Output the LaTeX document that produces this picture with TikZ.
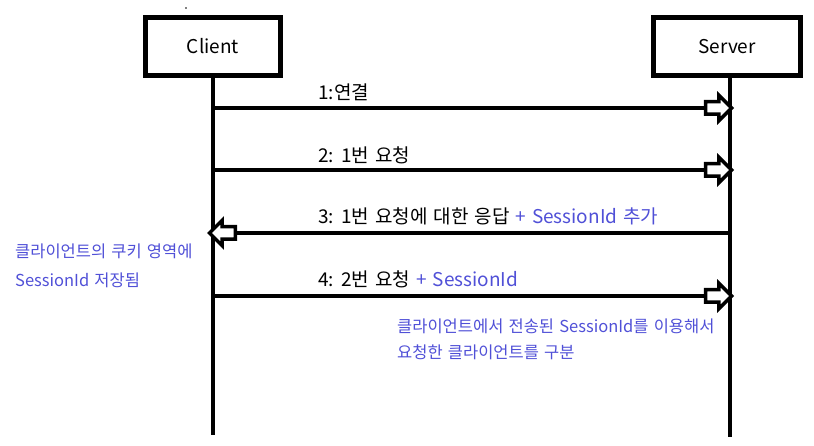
\documentclass[tikz,border=0pt]{standalone}
\usepackage{fontspec}
\setmainfont[WordSpace=1.4]{Noto Sans CJK KR}
\usetikzlibrary{shapes.arrows}
\definecolor{notecol}{RGB}{80,80,215}
\begin{document}
\begin{tikzpicture}[x=1pt,y=-1pt,
  actor/.style={draw, line width=5pt, minimum height=58,
                font=\fontsize{19}{21}\selectfont},
  life/.style={line width=4pt},
  msg/.style={line width=3.5pt},
  head/.style={single arrow, draw, line width=3.5pt, fill=white,
               inner sep=4.5pt, single arrow head extend=6.5pt,
               minimum height=26, anchor=tip},
  lbl/.style={anchor=south west, inner sep=1pt,
              font=\fontsize{19}{21}\selectfont},
  note/.style={anchor=west, align=left, inner sep=0pt, text=notecol}
]
  \useasboundingbox (0,0) rectangle (814,446);
  \fill (186,8) circle (0.9);

  \node[actor, minimum width=135] (client) at (213,46.5) {Client};
  \node[actor, minimum width=147] (server) at (727,46.5) {Server};

  \coordinate (cEnd) at (213,435);
  \coordinate (sEnd) at (730,437);
  \draw[life] (client.south) -- (cEnd);
  \draw[life] (server.south -| sEnd) -- (sEnd);

  % 1
  \coordinate (c1) at (213,108);
  \node[head] (h1) at (734,108) {};
  \draw[msg] (c1) -- (h1.tail);
  \node[lbl] (l1) at (317,102) {1:연결};

  % 2
  \coordinate (c2) at (213,170);
  \node[head] (h2) at (734,170) {};
  \draw[msg] (c2) -- (h2.tail);
  \node[lbl] (l2) at (317,165) {2: 1번 요청};

  % 3
  \coordinate (s3) at (730,233);
  \node[head, shape border rotate=180] (h3) at (207,233) {};
  \draw[msg] (s3) -- (h3.tail);
  \node[lbl] (l3) at (317,226)
       {3: 1번 요청에 대한 응답 {\color{notecol}+ SessionId 추가}};

  % 4
  \coordinate (c4) at (213,296);
  \node[head] (h4) at (734,296) {};
  \draw[msg] (c4) -- (h4.tail);
  \node[lbl] (l4) at (317,289) {4: 2번 요청 {\color{notecol}+ SessionId}};

  \node[note, font=\fontsize{16.5}{29}\selectfont] (ncookie) at (15,265.5)
       {클라이언트의 쿠키 영역에\\SessionId 저장됨};
  \node[note, font=\fontsize{16.5}{26}\selectfont] (nserver) at (397,339)
       {클라이언트에서 전송된 SessionId를 이용해서\\요청한 클라이언트를 구분};
\end{tikzpicture}
\end{document}
